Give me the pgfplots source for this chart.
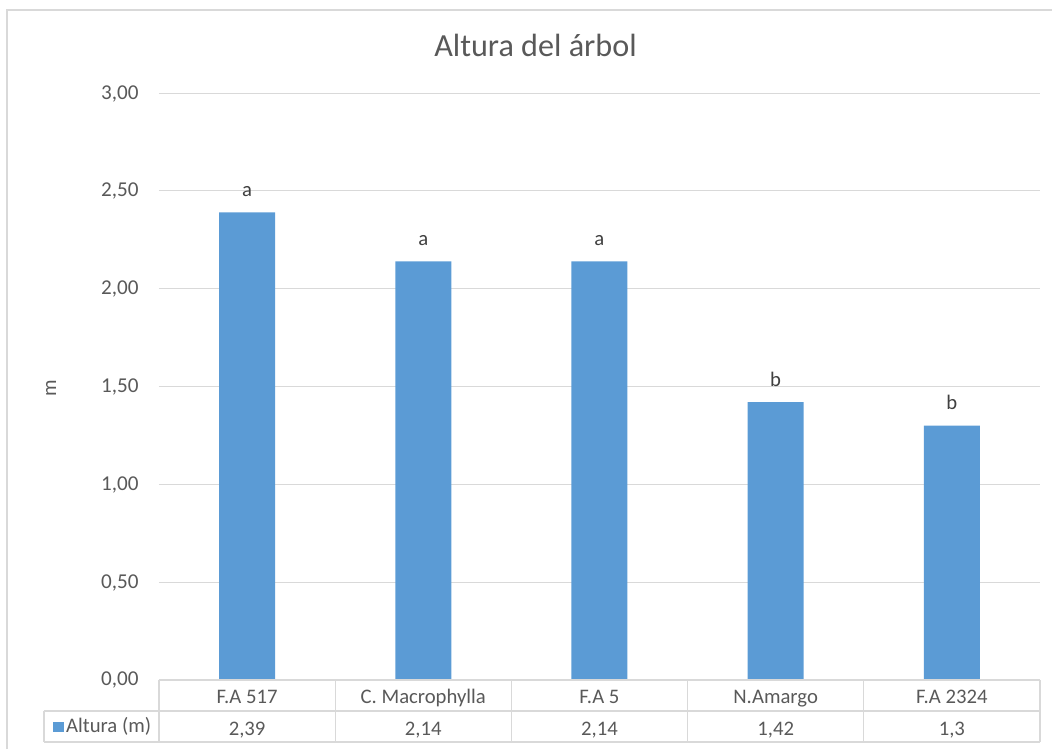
\documentclass[border=0pt]{standalone}
\usepackage{pgfplots}
\pgfplotsset{compat=1.18}
\usepackage{pgfplotstable}
\usepackage{fontspec}
\setmainfont{Carlito}
\definecolor{barc}{HTML}{5B9BD5}
\definecolor{gridc}{HTML}{D9D9D9}
\definecolor{txt}{HTML}{595959}
\definecolor{txtd}{HTML}{404040}

\pgfplotstableread{
x y letter
0 2.39 a
1 2.14 a
2 2.14 a
3 1.42 b
4 1.30 b
}\datatable

\def\px{0.435pt}

\begin{document}
\begin{tikzpicture}
\useasboundingbox (-159*\px,-69*\px) rectangle (893*\px,680*\px);
\begin{axis}[
  at={(0,0)}, anchor=south west,
  scale only axis, width=383.2pt, height=255.3pt,
  xmin=-0.5, xmax=4.5, ymin=0, ymax=3,
  ybar, bar width=24.36pt,
  clip=false,
  axis line style={draw=none},
  major tick length=0pt,
  ymajorgrids, grid style={gridc, line width=0.5pt},
  ytick={0,0.5,1,1.5,2,2.5,3},
  yticklabel style={/pgf/number format/fixed, /pgf/number format/fixed zerofill, /pgf/number format/precision=2, /pgf/number format/use comma, /pgf/number format/assume math mode=true,
    anchor=base east, inner sep=0pt, xshift=-8.7pt, yshift=-2.6pt, font=\fontsize{9.2}{11}\selectfont, text=txt},
  xtick={0,1,2,3,4},
  xticklabels={F.A 517, C. Macrophylla, F.A 5, N.Amargo, F.A 2324},
  xticklabel style={anchor=base, inner sep=0pt, yshift=-23.3*0.435pt, font=\fontsize{9}{11}\selectfont, text=txt},
  ylabel={m},
  ylabel style={at={(axis description cs:-0.1226,0.497)}, anchor=center, font=\fontsize{9}{11}\selectfont, text=txt},
  legend style={at={(axis description cs:-0.1203,-0.0801)}, anchor=west, draw=none, fill=none, inner sep=0pt,
    font=\fontsize{9}{11}\selectfont, text=txt, nodes={inner sep=1pt}, /tikz/every even column/.append style={column sep=1.5pt}},
  legend image code/.code={\fill[barc] (0pt,-2.2pt) rectangle (4.5pt,2.3pt);},
]
\addplot[fill=barc, draw=none,
  nodes near coords, point meta=explicit symbolic,
  nodes near coords style={anchor=base, yshift=6.9pt, inner sep=0pt, font=\fontsize{9}{11}\selectfont, text=txtd}]
  table[x=x, y=y, meta=letter]{\datatable};
\addlegendentry{Altura (m)}
\end{axis}
\begin{scope}[x=\px, y=-\px, shift={(-159*\px,680*\px)}]
  % outer chart border
  \draw[gridc, line width=0.6pt] (7,749) -- (7,10) -- (1052,10);
  % data table
  \draw[gridc, line width=0.6pt] (159,680) -- (1040,680);
  \draw[gridc, line width=0.6pt] (44,711) -- (1040,711);
  \draw[gridc, line width=0.6pt] (44,742) -- (1040,742);
  \draw[gridc, line width=0.6pt] (44,711) -- (44,742);
  \foreach \xx in {159,335.2,511.4,687.6,863.8,1040}
    \draw[gridc, line width=0.6pt] (\xx,680) -- (\xx,742);
  % values row
  \foreach \xx/\vv in {247.1/{2,39},423.3/{2,14},599.5/{2,14},775.7/{1,42},951.9/{1,3}}
    \node[anchor=base, inner sep=0pt, text=txt, font=\fontsize{9}{11}\selectfont] at (\xx,735) {\vv};
  % title
  \node[anchor=base, inner sep=0pt, text=txt, font=\fontsize{14}{17}\selectfont] at (535.5,56.7) {Altura del árbol};
\end{scope}
\end{tikzpicture}
\end{document}
